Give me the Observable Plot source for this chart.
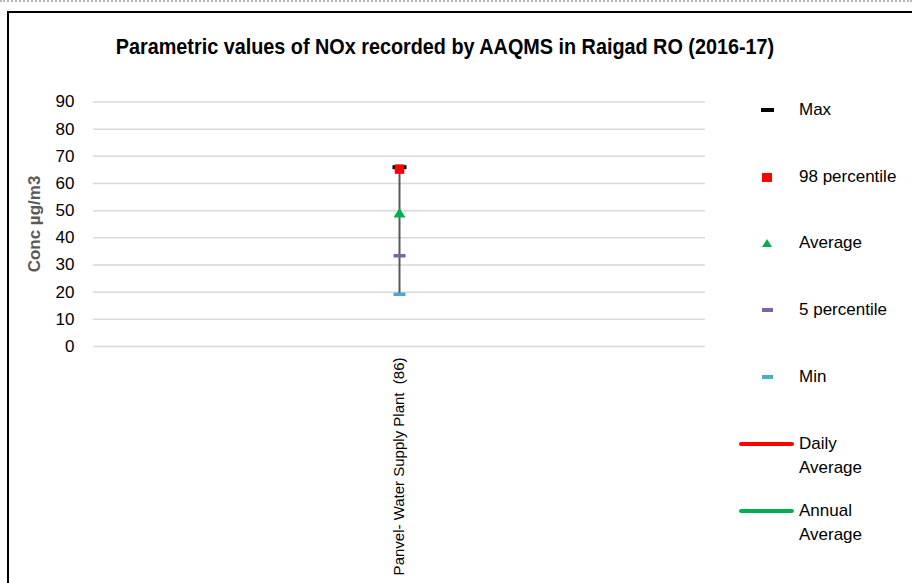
<!DOCTYPE html>
<html>
<head>
<meta charset="utf-8">
<script src="https://cdn.jsdelivr.net/npm/d3@7"></script>
<script src="https://cdn.jsdelivr.net/npm/@observablehq/plot@0.6"></script>
<style>
  html, body { margin: 0; padding: 0; background: #fff; }
  #wrap { position: relative; width: 912px; height: 583px; overflow: hidden; font-family: "Liberation Sans", Arial, sans-serif; }
  #dots { position: absolute; left: 0; top: 0; width: 912px; height: 0; border-top: 2px dotted #b8b8b8; }
  #frame { position: absolute; left: 7px; top: 11px; width: 912px; height: 600px; border-top: 2px solid #000; border-left: 2px solid #000; }
  #title { position: absolute; left: 0; top: 34px; width: 890px; text-align: center; font-family: "Liberation Sans", Arial, sans-serif; font-weight: bold; font-size: 22px; color: #000; white-space: nowrap; transform: scaleX(0.9); transform-origin: 445px 0; }
  #ylabel { position: absolute; left: 35px; top: 224px; transform: translate(-50%, -50%) rotate(-90deg); font-weight: bold; font-size: 17px; color: #595959; white-space: nowrap; }
  .leg { position: absolute; left: 799px; font-size: 17px; color: #000; line-height: 24px; white-space: nowrap; }
  .sw { position: absolute; }
  svg.plot { position: absolute; left: 0; top: 0; white-space: pre; }
</style>
</head>
<body>
<div id="wrap">
  <div id="dots"></div>
  <div id="frame"></div>
  <div id="title">Parametric values of NOx recorded by AAQMS in Raigad RO (2016-17)</div>
  <div id="ylabel">Conc µg/m3</div>
</div>
<script>
const categories = ["Panvel- Water Supply Plant  (86)"];
const maxValues = [66];
const p98Values = [65.3];
const avgValues = [49];
const p5Values = [33.4];
const minValues = [19.2];
const yTicks = [0, 10, 20, 30, 40, 50, 60, 70, 80, 90];
const legendItems = ["Max", "98 percentile", "Average", "5 percentile", "Min"];
const legendLines = ["Daily\nAverage", "Annual\nAverage"];

const rows = categories.map((c, i) => ({
  cat: c, max: maxValues[i], p98: p98Values[i], avg: avgValues[i], p5: p5Values[i], min: minValues[i]
}));

const rectSym = (w, h) => ({
  draw(ctx) {
    ctx.moveTo(-w / 2, -h / 2); ctx.lineTo(w / 2, -h / 2);
    ctx.lineTo(w / 2, h / 2); ctx.lineTo(-w / 2, h / 2); ctx.closePath();
  }
});
const triSym = {
  draw(ctx) { ctx.moveTo(0, -5.5); ctx.lineTo(6, 4); ctx.lineTo(-6, 4); ctx.closePath(); }
};

const chart = Plot.plot({
  width: 912,
  height: 583,
  marginLeft: 93,
  marginRight: 207,
  marginTop: 101.5,
  marginBottom: 237,
  style: { fontFamily: "'Liberation Sans', Arial, sans-serif", background: "transparent", overflow: "visible" },
  x: { type: "band", domain: categories, padding: 0 },
  y: { domain: [0, 90], ticks: yTicks },
  marks: [
    Plot.ruleY(yTicks, { stroke: "#d9d9d9", strokeWidth: 1.5 }),
    Plot.axisY({ ticks: yTicks, tickSize: 0, tickPadding: 19, fontSize: 17, fill: "#000", label: null }),
    Plot.axisX({ tickSize: 0, tickRotate: -90, tickPadding: 11, fontSize: 15, fill: "#000", label: null }),
    Plot.ruleX(rows, { x: "cat", y1: "min", y2: "max", stroke: "#595959", strokeWidth: 2 }),
    Plot.dot(rows, { x: "cat", y: "min", r: 5, symbol: rectSym(12, 3.5), fill: "#4BACC6", stroke: "none" }),
    Plot.dot(rows, { x: "cat", y: "p5", r: 5, symbol: rectSym(12, 3.5), fill: "#8064A2", stroke: "none" }),
    Plot.dot(rows, { x: "cat", y: "avg", r: 5, symbol: triSym, fill: "#00B050", stroke: "none" }),
    Plot.dot(rows, { x: "cat", y: "max", r: 5, symbol: rectSym(14, 4), fill: "#000", stroke: "none" }),
    Plot.dot(rows, { x: "cat", y: "p98", r: 5, symbol: rectSym(9.5, 9.5), fill: "#FF0000", stroke: "none" })
  ]
});
const wrap = document.getElementById("wrap");
wrap.appendChild(chart);

// Legend (HTML)
const legColors = ["#000", "#FF0000", "#00B050", "#8064A2", "#4BACC6"];
const legY = [110, 177, 243, 310, 377];
const legSw = [
  { w: 13, h: 4 }, { w: 10, h: 9 }, null, { w: 11, h: 3.5 }, { w: 11, h: 3.5 }
];
legendItems.forEach((t, i) => {
  const d = document.createElement("div");
  d.className = "leg"; d.textContent = t;
  d.style.top = (legY[i] - 12) + "px";
  wrap.appendChild(d);
  if (legSw[i]) {
    const s = document.createElement("div");
    s.className = "sw";
    s.style.width = legSw[i].w + "px"; s.style.height = legSw[i].h + "px";
    s.style.left = (767 - legSw[i].w / 2) + "px";
    s.style.top = (legY[i] - legSw[i].h / 2) + "px";
    s.style.background = legColors[i];
    wrap.appendChild(s);
  } else {
    const s = document.createElement("div");
    s.className = "sw";
    s.style.left = "762px"; s.style.top = (legY[i] - 4) + "px";
    s.style.width = "0"; s.style.height = "0";
    s.style.borderLeft = "5px solid transparent";
    s.style.borderRight = "5px solid transparent";
    s.style.borderBottom = "8px solid " + legColors[i];
    wrap.appendChild(s);
  }
});
const lineColors = ["#FF0000", "#00B050"];
const lineY = [444, 511];
legendLines.forEach((t, i) => {
  const s = document.createElement("div");
  s.className = "sw";
  s.style.left = "739px"; s.style.top = (lineY[i] - 2) + "px";
  s.style.width = "55px"; s.style.height = "4px";
  s.style.borderRadius = "2px";
  s.style.background = lineColors[i];
  wrap.appendChild(s);
  const d = document.createElement("div");
  d.className = "leg"; d.style.whiteSpace = "pre";
  d.textContent = t;
  d.style.top = (lineY[i] - 12) + "px";
  wrap.appendChild(d);
});
</script>
</body>
</html>
